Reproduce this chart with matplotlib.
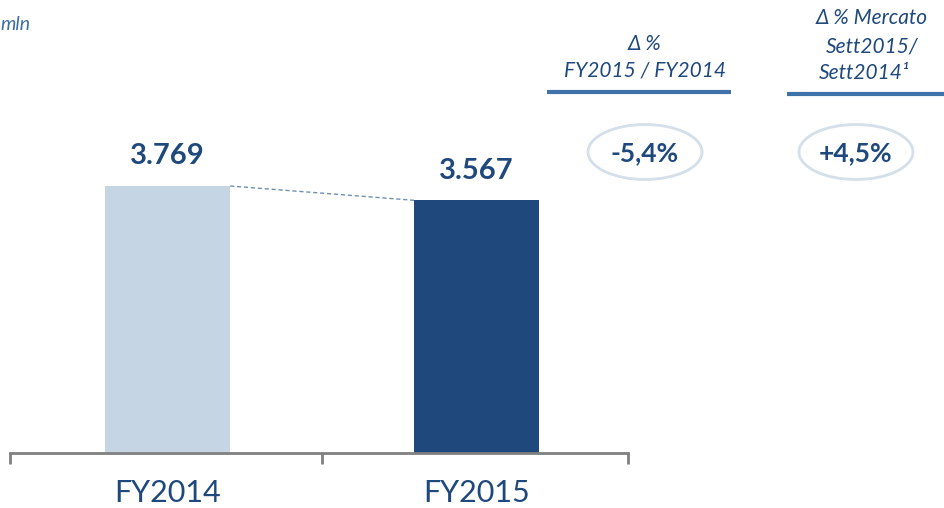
import matplotlib
matplotlib.use("Agg")
import matplotlib.pyplot as plt
from matplotlib.patches import Ellipse

categories = ["FY2014", "FY2015"]
values = [3769, 3567]
value_labels = ["3.769", "3.567"]
bar_colors = ["#c5d5e4", "#1f497d"]
delta_labels = ["-5,4%", "+4,5%"]
header1 = ["Δ %", "FY2015 / FY2014"]
header2 = ["Δ % Mercato", "Sett2015/", "Sett2014¹"]
unit_label = "mln"

W, H = 944, 508
fig = plt.figure(figsize=(W / 100, H / 100), dpi=100)
plt.rcParams['font.family'] = ['Lato', 'DejaVu Sans']

dark = "#1f497d"
mid = "#3c6ea6"

# main axes: x from 10 to 628 px, baseline at 453 px from top
ax = fig.add_axes([10 / W, (H - 453) / H, 618 / W, 453 / H])
scale = 267 / 3769.0
ax.set_ylim(0, 453 / scale)
ax.set_xlim(-0.5 - 3 / 308, 1.5 - 3 / 308)
x = list(range(len(categories)))
bars = ax.bar(x, values, width=0.405, color=bar_colors, zorder=2)
for i, (v, lab) in enumerate(zip(values, value_labels)):
    ax.text(i, v + 420, lab, ha="center", va="center", fontsize=21,
            fontweight="bold", color=dark)
# dashed connector
b0, b1 = bars[0], bars[1]
ax.plot([b0.get_x() + b0.get_width(), b1.get_x()], [values[0], values[1]],
        linestyle=(0, (3, 2)), color="#6f8fb3", lw=1.0, zorder=3)

for s in ["top", "right", "left"]:
    ax.spines[s].set_visible(False)
ax.spines["bottom"].set_color("#808080")
ax.spines["bottom"].set_linewidth(2)
ax.set_yticks([])
ax.set_xticks([-0.5 - 3 / 308 + 0.001, 0.5, 1.5 - 3 / 308 - 0.001], minor=False)
ax.set_xticklabels([])
ax.tick_params(axis="x", direction="out", length=8, width=2, color="#808080")
for i, c in enumerate(categories):
    ax.text(i, -40 / scale, c, ha="center", va="center", fontsize=22,
            fontweight="normal", color=dark)

# overlay in pixel coordinates
ov = fig.add_axes([0, 0, 1, 1], facecolor="none")
ov.set_xlim(0, W)
ov.set_ylim(H, 0)
ov.axis("off")

ov.text(0, 25, unit_label, ha="left", va="center", fontsize=14,
        style="italic", color=mid)

hs = 15
ov.text(645, 44, header1[0], ha="center", va="center", fontsize=hs,
        style="italic", color=dark)
ov.text(645, 71, header1[1], ha="center", va="center", fontsize=hs,
        style="italic", color=dark)
ov.plot([547, 731], [92, 92], color="#3f72a8", lw=3, solid_capstyle="butt")

ov.text(872, 18, header2[0], ha="center", va="center", fontsize=hs,
        style="italic", color=dark)
ov.text(872, 47, header2[1], ha="center", va="center", fontsize=hs,
        style="italic", color=dark)
ov.text(864, 73, header2[2], ha="center", va="center", fontsize=hs,
        style="italic", color=dark)
ov.plot([787, 944], [94, 94], color="#3f72a8", lw=3, solid_capstyle="butt")

for cx, lab in zip([645, 856], delta_labels):
    ov.add_patch(Ellipse((cx, 152), 114, 55, fill=False, edgecolor="#d4dfea", lw=2))
    ov.text(cx, 153, lab, ha="center", va="center", fontsize=19,
            fontweight="bold", color=dark)

fig.savefig("out.png", dpi=100)
